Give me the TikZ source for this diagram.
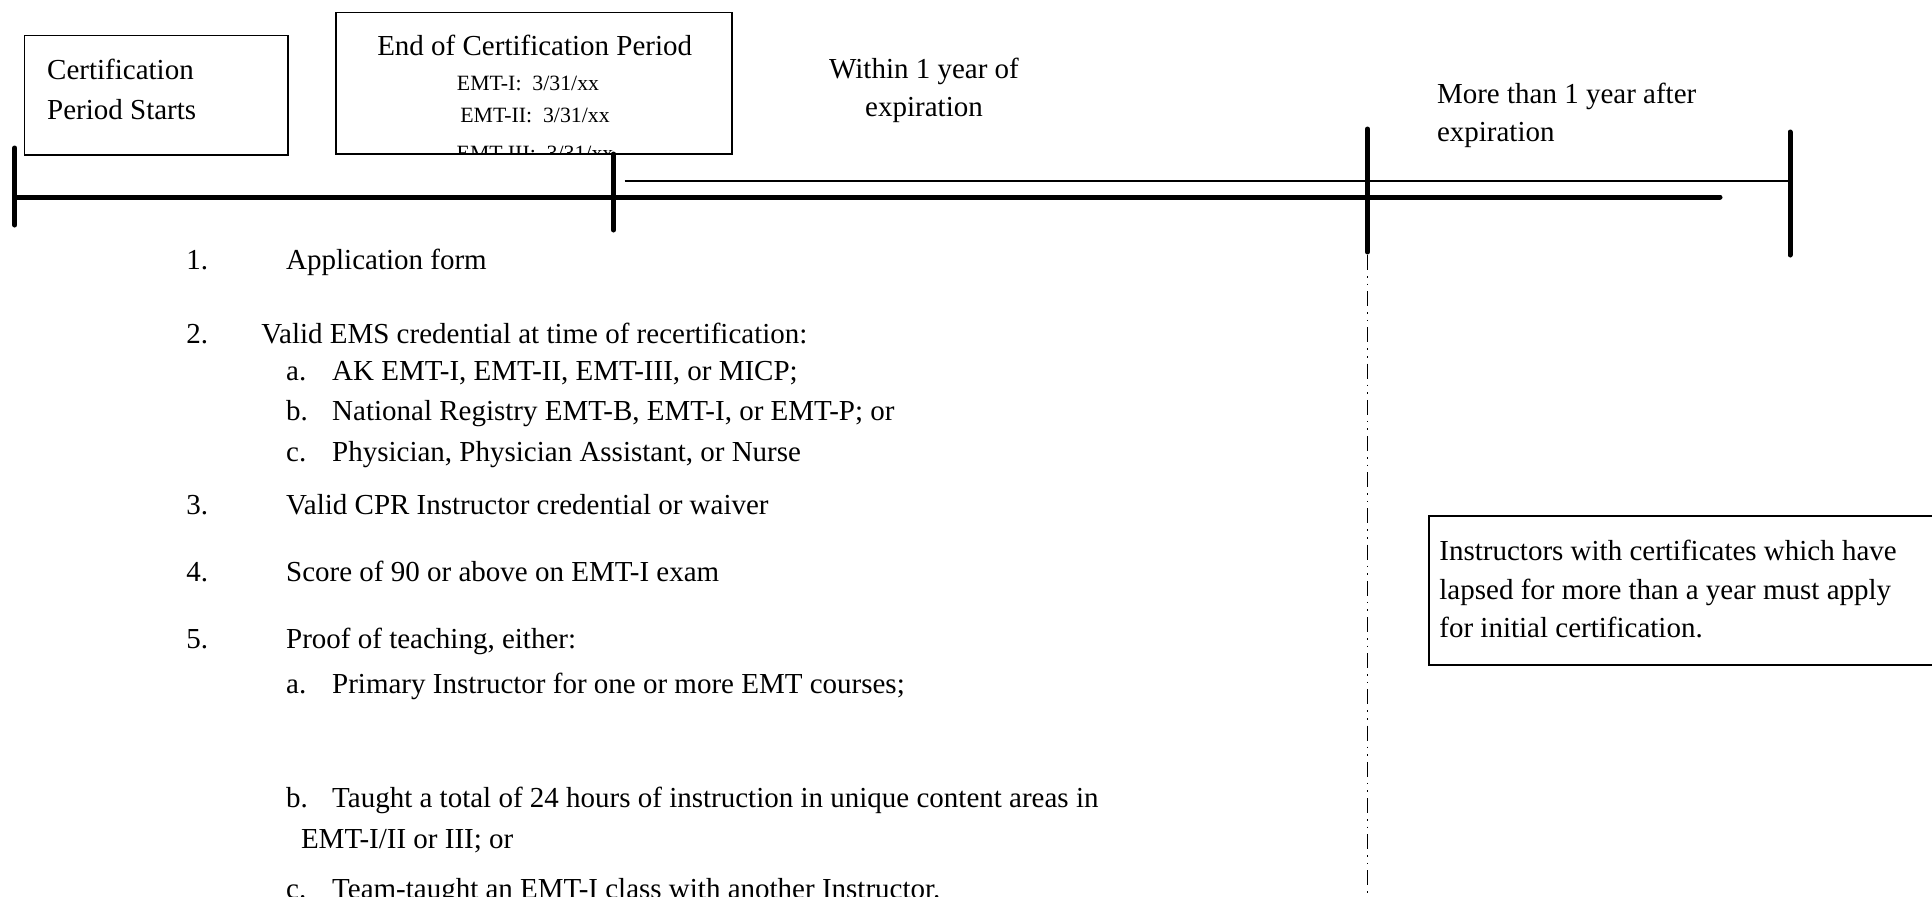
\documentclass[tikz,border=0pt]{standalone}
\usepackage{fontspec}
\setmainfont{Liberation Serif}
\usepackage{tikz}
\newcommand{\bigtext}{\fontsize{14.5}{17}\selectfont}
\newcommand{\smalltext}{\fontsize{10.9}{13}\selectfont}
\tikzstyle{box}=[draw,line width=0.7pt,inner sep=0,outer sep=0,anchor=north west]
\tikzstyle{txt}=[inner sep=0,anchor=base west,font=\bigtext]
\tikzstyle{ctxt}=[inner sep=0,anchor=base,font=\bigtext]
\tikzstyle{tick}=[line width=2.5pt,line cap=round]
\newcommand{\subpoint}[2]{\makebox[23pt][l]{#1}#2}

\begin{document}
\begin{tikzpicture}[x=0.5pt,y=-0.5pt]
\useasboundingbox (0,0) rectangle (1932,896);

% boxes on top of the time line
\node[box,minimum width=131.7pt,minimum height=59.7pt] (startbox) at (24.6,35.7) {};
\node[txt] (start1) at (46.8,79) {Certification};
\node[txt] (start2) at (46.8,119) {Period Starts};

\node[box,minimum width=198pt,minimum height=70.9pt] (endbox) at (336,12.3) {};
\node[ctxt] (endtitle) at (534.7,55) {End of Certification Period};
\begin{scope}
\clip (endbox.north west) rectangle ([yshift=0.35pt]endbox.south east);
\node[ctxt,font=\smalltext] (endI) at (528,90) {EMT-I:~~3/31/xx};
\node[ctxt,font=\smalltext] (endII) at (535,122) {EMT-II:~~3/31/xx};
\node[ctxt,font=\smalltext] (endIII) at (535,160) {EMT-III:~~3/31/xx};
\end{scope}

\node[ctxt] (within1) at (924,78) {Within 1 year of};
\node[ctxt] (within2) at (924,116) {expiration};
\node[txt] (after1) at (1436.6,103) {More than 1 year after};
\node[txt] (after2) at (1436.6,141) {expiration};

% time line
\draw[tick] (14.8,197) -- (1720,197);
\draw[line width=0.9pt] (624.6,181) -- (1790,181);
\draw[tick] (14.8,148) -- (14.8,225);
\draw[tick] (613.5,154) -- (613.5,230);
\draw[tick] (1367.5,129) -- (1367.5,252);
\draw[tick] (1790,132) -- (1790,255);
\draw[line width=0.7pt,dash pattern=on 7.5pt off 3pt on 0.8pt off 3pt on 0.8pt off 3pt] (1367.5,255) -- (1367.5,896);

% requirements
\node[txt] (n1) at (186,269) {1.};
\node[txt] (i1) at (285.8,269) {Application form};
\node[txt] (n2) at (186,343) {2.};
\node[txt] (i2) at (261,343) {Valid EMS credential at time of recertification:};
\node[txt] (i2a) at (285.8,380) {\subpoint{a.}{AK EMT-I, EMT-II, EMT-III, or MICP;}};
\node[txt] (i2b) at (285.8,420.5) {\subpoint{b.}{National Registry EMT-B, EMT-I, or EMT-P; or}};
\node[txt] (i2c) at (285.8,461) {\subpoint{c.}{Physician, Physician Assistant, or Nurse}};
\node[txt] (n3) at (186,514) {3.};
\node[txt] (i3) at (285.8,514) {Valid CPR Instructor credential or waiver};
\node[txt] (n4) at (186,581) {4.};
\node[txt] (i4) at (285.8,581) {Score of 90 or above on EMT-I exam};
\node[txt] (n5) at (186,648.4) {5.};
\node[txt] (i5) at (285.8,648.4) {Proof of teaching, either:};
\node[txt] (i5a) at (285.8,693) {\subpoint{a.}{Primary Instructor for one or more EMT courses;}};
\node[txt] (i5b) at (285.8,807) {\subpoint{b.}{Taught a total of 24 hours of instruction in unique content areas in}};
\node[txt] (i5b2) at (300.6,848) {EMT-I/II or III; or};
\node[txt] (i5c) at (285.8,898) {\subpoint{c.}{Team-taught an EMT-I class with another Instructor.}};

% lapsed note
\node[box,minimum width=262pt,minimum height=74.5pt] (lapsedbox) at (1429,516) {};
\node[txt] (lapsed1) at (1439,560) {Instructors with certificates which have};
\node[txt] (lapsed2) at (1439,599) {lapsed for more than a year must apply};
\node[txt] (lapsed3) at (1439,637) {for initial certification.};
\end{tikzpicture}
\end{document}
